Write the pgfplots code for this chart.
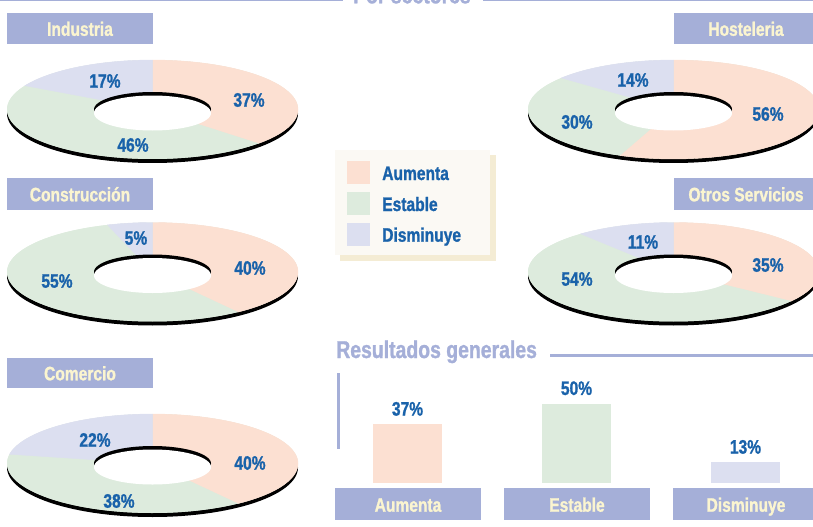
\documentclass[border=0pt]{standalone}
\usepackage{pgfplots}
\pgfplotsset{compat=1.18}
\usepackage{fontspec}
\setmainfont{Liberation Sans}[FakeStretch=0.8, BoldFeatures={FakeBold=1.2}]
\definecolor{cA}{RGB}{252,224,210}
\definecolor{cE}{RGB}{221,235,221}
\definecolor{cD}{RGB}{220,223,240}
\definecolor{hdr}{RGB}{165,175,216}
\definecolor{cream}{RGB}{251,245,208}
\definecolor{cblue}{RGB}{25,98,170}
\definecolor{legbg}{RGB}{251,249,244}
\definecolor{legsh}{RGB}{244,236,212}
\newcommand\lab{\bfseries\fontsize{14.6}{16}\selectfont}
\newcommand\ttl{\bfseries\fontsize{18.2}{20}\selectfont}
\pgfplotsset{donut/.style={hide axis, x=0.75pt, y=0.75pt, xmin=-150, xmax=150,
  ymin=-60, ymax=60, clip=false, anchor=center}}
\newcommand\donut[5]{%
  \pgfmathsetmacro\aA{90-3.6*#3}%
  \pgfmathsetmacro\aE{\aA-3.6*#4}%
  \begin{axis}[donut, at={(#1)}]
    \addplot[fill=black, draw=none, domain=0:360, samples=121] ({145.5*cos(x)}, {49.5*sin(x)-4}) -- cycle;
    \addplot[fill=cE, draw=none, domain=0:360, samples=121] ({145.5*cos(x)}, {49.5*sin(x)}) -- cycle;
    \addplot[fill=cA, draw=cA, line width=0.3pt, domain=\aA:90, samples=61] ({145.5*cos(x)}, {49.5*sin(x)}) -- (0,0) -- cycle;
    \addplot[fill=cE, draw=none, domain=\aE:\aA, samples=61] ({145.5*cos(x)}, {49.5*sin(x)}) -- (0,0) -- cycle;
    \addplot[fill=cD, draw=cD, line width=0.3pt, domain=-270:\aE, samples=61] ({145.5*cos(x)}, {49.5*sin(x)}) -- (0,0) -- cycle;
    \addplot[fill=black, draw=none, domain=0:360, samples=121] ({58.5*cos(x)}, {17.5*sin(x)}) -- cycle;
    \addplot[fill=white, draw=none, domain=0:360, samples=121] ({58.5*cos(x)}, {17.5*sin(x)-3.5}) -- cycle;
  \end{axis}}
\newcommand\pct[3]{\node[font=\lab, text=cblue] at (#1,#2) {#3\%};}
\newcommand\hdrbox[6]{\fill[hdr] (#1,#2) rectangle (#3,#4);
  \node[font=\lab, text=cream, anchor=base] at ({#5},{(#2+#4)/2-7.3}) {#6};}
\begin{document}
\begin{tikzpicture}[x=0.75pt, y=0.75pt]
\useasboundingbox (0,0) rectangle (813,526);
\clip (0,0) rectangle (813,526);
\coordinate (dI) at (152.5,416.5);
\coordinate (dH) at (673.5,416.5);
\coordinate (dC) at (152.5,254);
\coordinate (dO) at (673.5,254);
\coordinate (dM) at (152.5,62.5);
\coordinate (bsw) at (323,43);
% top title
\fill[hdr] (0,524.6) rectangle (343,526);
\fill[hdr] (483,524.6) rectangle (813,526);
\node[font=\ttl, text=hdr, anchor=base] at (412,522.7) {Por sectores};
% headers
\hdrbox{7}{482}{152.5}{513}{80}{Industria}
\hdrbox{673.5}{482}{813}{513}{746}{Hosteleria}
\hdrbox{7}{316}{152.5}{348}{80}{Construcción}
\hdrbox{673.5}{316}{813}{348}{746}{Otros Servicios}
\hdrbox{7}{138}{152.5}{168}{80}{Comercio}
% donuts
\donut{dI}{}{37}{46}{17}
\donut{dH}{}{56}{30}{14}
\donut{dC}{}{40}{55}{5}
\donut{dO}{}{35}{54}{11}
\donut{dM}{}{40}{38}{22}
% donut labels
\pct{105}{445}{17}\pct{249}{426}{37}\pct{133}{381}{46}
\pct{633}{446}{14}\pct{768}{412}{56}\pct{577}{404}{30}
\pct{136}{288}{5}\pct{250}{258}{40}\pct{57}{245}{55}
\pct{643}{284}{11}\pct{768}{261}{35}\pct{577}{247}{54}
\pct{95}{86}{22}\pct{250}{63}{40}\pct{119}{25}{38}
% legend
\fill[legsh] (340,265) rectangle (496,371);
\fill[legbg] (335,271) rectangle (490,376);
\fill[cA] (347,342) rectangle (370,365);
\fill[cE] (347,311) rectangle (370,334);
\fill[cD] (347,280) rectangle (370,303);
\node[font=\lab, text=cblue, anchor=base west, inner sep=0pt] at (382,346) {Aumenta};
\node[font=\lab, text=cblue, anchor=base west, inner sep=0pt] at (382,315) {Estable};
\node[font=\lab, text=cblue, anchor=base west, inner sep=0pt] at (382,284.3) {Disminuye};
% resultados generales
\node[font=\ttl, text=hdr, anchor=base west, inner sep=0pt] at (336,168) {Resultados generales};
\fill[hdr] (550,169) rectangle (813,171.6);
\fill[hdr] (337,76.7) rectangle (339.5,153.3);
\begin{axis}[hide axis, x=126.75pt, y=1.18875pt, xmin=-0.5, xmax=2.5, ymin=0, ymax=60,
  anchor=south west, at={(bsw)}, clip=false,
  /pgf/number format/assume math mode=true,
  every node near coord/.append style={font=\lab, text=cblue, anchor=base, yshift=6.6pt, inner sep=0pt}]
  \addplot[ybar, bar shift=0pt, bar width=51.75pt, fill=cA, draw=none,
    nodes near coords={\pgfmathprintnumber{\pgfplotspointmeta}\%}] coordinates {(0,37)};
  \addplot[ybar, bar shift=0pt, bar width=51.75pt, fill=cE, draw=none,
    nodes near coords={\pgfmathprintnumber{\pgfplotspointmeta}\%}] coordinates {(1,50)};
  \addplot[ybar, bar shift=0pt, bar width=51.75pt, fill=cD, draw=none,
    nodes near coords={\pgfmathprintnumber{\pgfplotspointmeta}\%}] coordinates {(2,13)};
\end{axis}
\fill[hdr] (335,6) rectangle (481,38);
\fill[hdr] (504,6) rectangle (650,38);
\fill[hdr] (673,6) rectangle (813,38);
\node[font=\lab, text=cream, anchor=base] at (408,14.3) {Aumenta};
\node[font=\lab, text=cream, anchor=base] at (577,14.3) {Estable};
\node[font=\lab, text=cream, anchor=base] at (746,14.3) {Disminuye};
\end{tikzpicture}
\end{document}
